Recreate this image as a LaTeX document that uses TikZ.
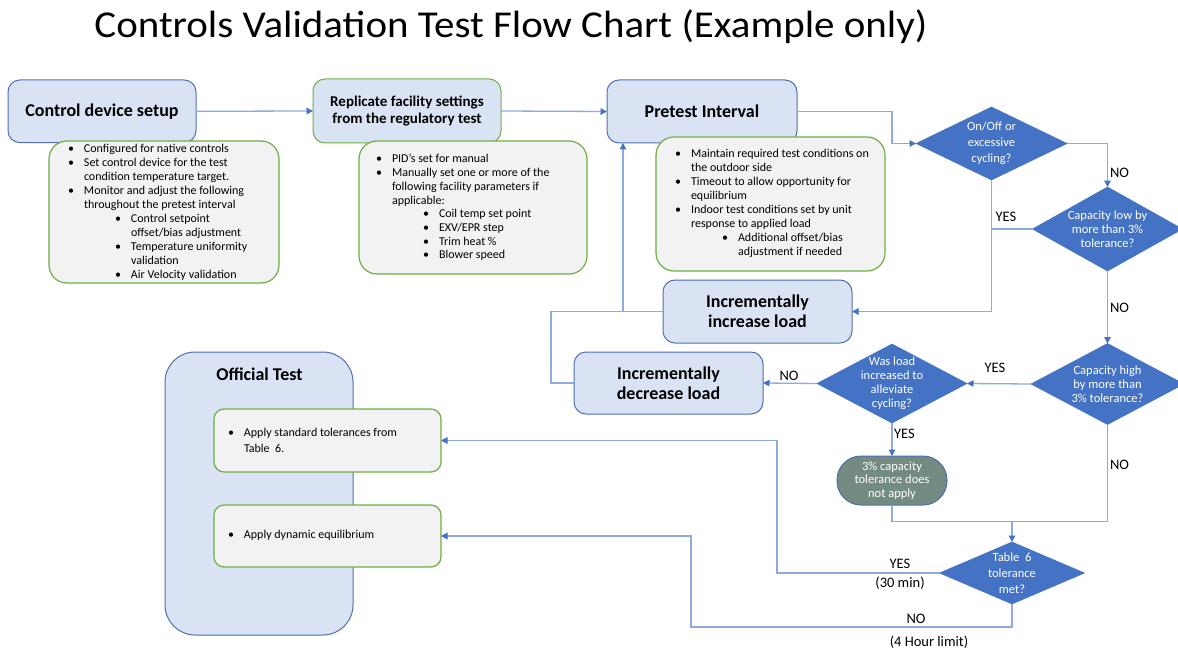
\documentclass[tikz,border=0pt]{standalone}
\usepackage{fontspec}
\usepackage{graphicx}
\setmainfont{Carlito}
\usetikzlibrary{arrows.meta,shapes.geometric}

\definecolor{boxfill}{HTML}{DAE3F3}
\definecolor{boxline}{HTML}{4F6FAF}
\definecolor{notefill}{HTML}{F2F2F2}
\definecolor{noteline}{HTML}{70AD47}
\definecolor{diafill}{HTML}{4472C4}
\definecolor{termfill}{HTML}{738B81}
\definecolor{wirecol}{HTML}{8FAADC}
\definecolor{tipcol}{HTML}{4472C4}

% bullet helpers for the note texts
\newcommand{\blt}{\makebox[16pt][l]{\textbullet}}
\newcommand{\sblt}{\hspace*{47pt}\makebox[16pt][l]{\textbullet}}
\newcommand{\noteind}{\hspace*{16pt}}
\newcommand{\subind}{\hspace*{63pt}}

\begin{document}
\begin{tikzpicture}[x=1pt,y=-1pt,
  every node/.style={inner sep=0pt,outer sep=0pt},
  blubox/.style={draw=boxline,fill=boxfill,line width=1pt,rounded corners=12pt,
    align=center,font=\bfseries\fontsize{18}{20}\selectfont},
  notebox/.style={draw=noteline,fill=notefill,line width=1.2pt,rounded corners=18pt},
  % multi-line texts are placed by the baseline of their last line
  notetext/.style={align=left,anchor=base west,font=\fontsize{12}{14}\selectfont},
  dia/.style={diamond,fill=diafill,draw=diafill,line width=0.5pt},
  diatext/.style={text=white,align=center,font=\fontsize{12.5}{14}\selectfont},
  wire/.style={draw=wirecol,line width=1.3pt},
  arr/.style={wire,-{Triangle[length=6.5pt,width=6.5pt,color=tipcol]}},
  lbl/.style={font=\fontsize{14.5}{16}\selectfont}]

\useasboundingbox[fill=white] (0,0) rectangle (1178,650);

% title
\node[anchor=base,font=\fontsize{38}{40}\selectfont] (title) at (511,37.5)
  {\scalebox{1.078}[1]{Controls Validation Test Flow Chart (Example only)}};

% main process boxes
\node[blubox,minimum width=188pt,minimum height=62.7pt] (ctrl) at (102,111.3) {Control device setup};
\node[blubox,draw=noteline,minimum width=188pt,minimum height=64pt,
  font=\bfseries\fontsize{15}{17}\selectfont] (repl) at (407,111)
  {Replicate facility settings\\from the regulatory test};
\node[blubox,minimum width=190pt,minimum height=63pt] (pre) at (702,111.5) {Pretest Interval};
\node[blubox,minimum width=189pt,minimum height=63pt] (inc) at (757.5,311.5) {Incrementally\\increase load};
\node[blubox,minimum width=189pt,minimum height=62pt] (dec) at (668.5,383) {Incrementally\\decrease load};

% notes under the top boxes
\node[notebox,minimum width=230pt,minimum height=142pt] (n1) at (164,212) {};
\node[notetext] (n1t) at (68,278.2) {%
\blt Configured for native controls\\
\blt Set control device for the test\\
\noteind condition temperature target.\\
\blt Monitor and adjust the following\\
\noteind throughout the pretest interval\\
\sblt Control setpoint\\
\subind offset/bias adjustment\\
\sblt Temperature uniformity\\
\subind validation\\
\sblt Air Velocity validation};

\node[notebox,minimum width=228pt,minimum height=133pt] (n2) at (473,207.5) {};
\node[notetext,font=\fontsize{12}{13.7}\selectfont] (n2t) at (376,258.8) {%
\blt PID’s set for manual\\
\blt Manually set one or more of the\\
\noteind following facility parameters if\\
\noteind applicable:\\
\sblt Coil temp set point\\
\sblt EXV/EPR step\\
\sblt Trim heat \%\\
\sblt Blower speed};

\node[notebox,minimum width=229pt,minimum height=134pt] (n3) at (770.5,204) {};
\node[notetext] (n3t) at (675,255.8) {%
\blt Maintain required test conditions on\\
\noteind the outdoor side\\
\blt Timeout to allow opportunity for\\
\noteind equilibrium\\
\blt Indoor test conditions set by unit\\
\noteind response to applied load\\
\sblt Additional offset/bias\\
\subind adjustment if needed};

% decisions
\node[dia,minimum width=151pt,minimum height=73pt] (d1) at (991.5,143.5) {};
\node[diatext,font=\fontsize{12.5}{16}\selectfont] (d1t) at (d1) {On/Off or\\excessive\\cycling?};
\node[dia,minimum width=150pt,minimum height=84pt] (d2) at (1107.5,229) {};
\node[diatext] (d2t) at (d2) {Capacity low by\\more than 3\%\\tolerance?};
\node[dia,minimum width=153pt,minimum height=81pt] (d3) at (1107.5,384) {};
\node[diatext] (d3t) at (d3) {Capacity high\\by more than\\3\% tolerance?};
\node[dia,minimum width=150pt,minimum height=79pt] (d4) at (892,383.5) {};
\node[diatext] (d4t) at (d4) {Was load\\increased to\\alleviate\\cycling?};
\node[dia,minimum width=145pt,minimum height=62pt] (d5) at (1012,573) {};
\node[diatext,font=\fontsize{12.5}{16}\selectfont] (d5t) at (d5) {Table\ \ 6\\tolerance\\met?};

% terminal
\node[draw=boxline,fill=termfill,line width=1pt,rounded corners=24pt,
  minimum width=110pt,minimum height=49pt,text=white,align=center,
  font=\fontsize{12.5}{13.4}\selectfont] (term) at (892,480.5)
  {3\% capacity\\tolerance does\\not apply};

% official test group
\node[draw=boxline,fill=boxfill,line width=1pt,rounded corners=30pt,
  minimum width=188pt,minimum height=283pt] (off) at (259,493.5) {};
\node[font=\bfseries\fontsize{18}{20}\selectfont] (offt) at (259.5,374) {Official Test};
\node[notebox,rounded corners=10pt,minimum width=227pt,minimum height=63pt] (subA) at (327.5,440.5) {};
\node[notetext,font=\fontsize{12}{16.3}\selectfont] (subAt) at (228,452.5)
  {\blt Apply standard tolerances from\\\noteind Table\ \ 6.};
\node[notebox,rounded corners=10pt,minimum width=227pt,minimum height=62pt] (subB) at (327.5,536) {};
\node[notetext] (subBt) at (228,538.5) {\blt Apply dynamic equilibrium};

% connectors
\draw[arr] (ctrl.east) -- (repl.west);
\draw[arr] (repl.east) -- (pre.west);
\draw[arr] (pre.east) -- ++(95,0) |- (d1.west);
\draw[arr] (d1.east) -| (d2.north);
\draw[arr] (d1.south) |- (inc.east);
\draw[wire] (d2.west) -- (d1.south |- d2.west);
\draw[arr] (d2.south) -- (d3.north);
\draw[arr] (d3.west) -- (d4.east);
\draw[arr] (d4.west) -- (dec.east);
\draw[arr] (d4.south) -- (term.north);

\coordinate (join) at (1012,521.5);
\draw[arr] (term.south) |- (join) -- (d5.north);
\draw[wire] (d3.south) |- (join);

\coordinate (yesbend) at (777,573);
\draw[arr] (d5.west) -- (yesbend) |- (subA.east);
\coordinate (nobend) at (691,627);
\draw[arr] (d5.south) |- (nobend) |- (subB.east);

\coordinate (upline) at (623,311.5);
\draw[arr] (inc.west) -- (upline) -- (upline |- pre.south);
\draw[wire] (dec.west) -- ++(-23,0) |- (upline);

% branch labels
\node[lbl,anchor=west] (l1) at (1110,173) {NO};
\node[lbl] (l2) at (1006,217) {YES};
\node[lbl,anchor=west] (l3) at (1110,308) {NO};
\node[lbl] (l4) at (995,367.5) {YES};
\node[lbl] (l5) at (789,376) {NO};
\node[lbl,anchor=west] (l6) at (894,433.5) {YES};
\node[lbl,anchor=west] (l7) at (1110,465) {NO};
\node[lbl] (l8) at (900,564) {YES};
\node[lbl] (l9) at (900,583) {(30 min)};
\node[lbl] (l10) at (916,619) {NO};
\node[lbl] (l11) at (929,642) {(4 Hour limit)};
\end{tikzpicture}
\end{document}
